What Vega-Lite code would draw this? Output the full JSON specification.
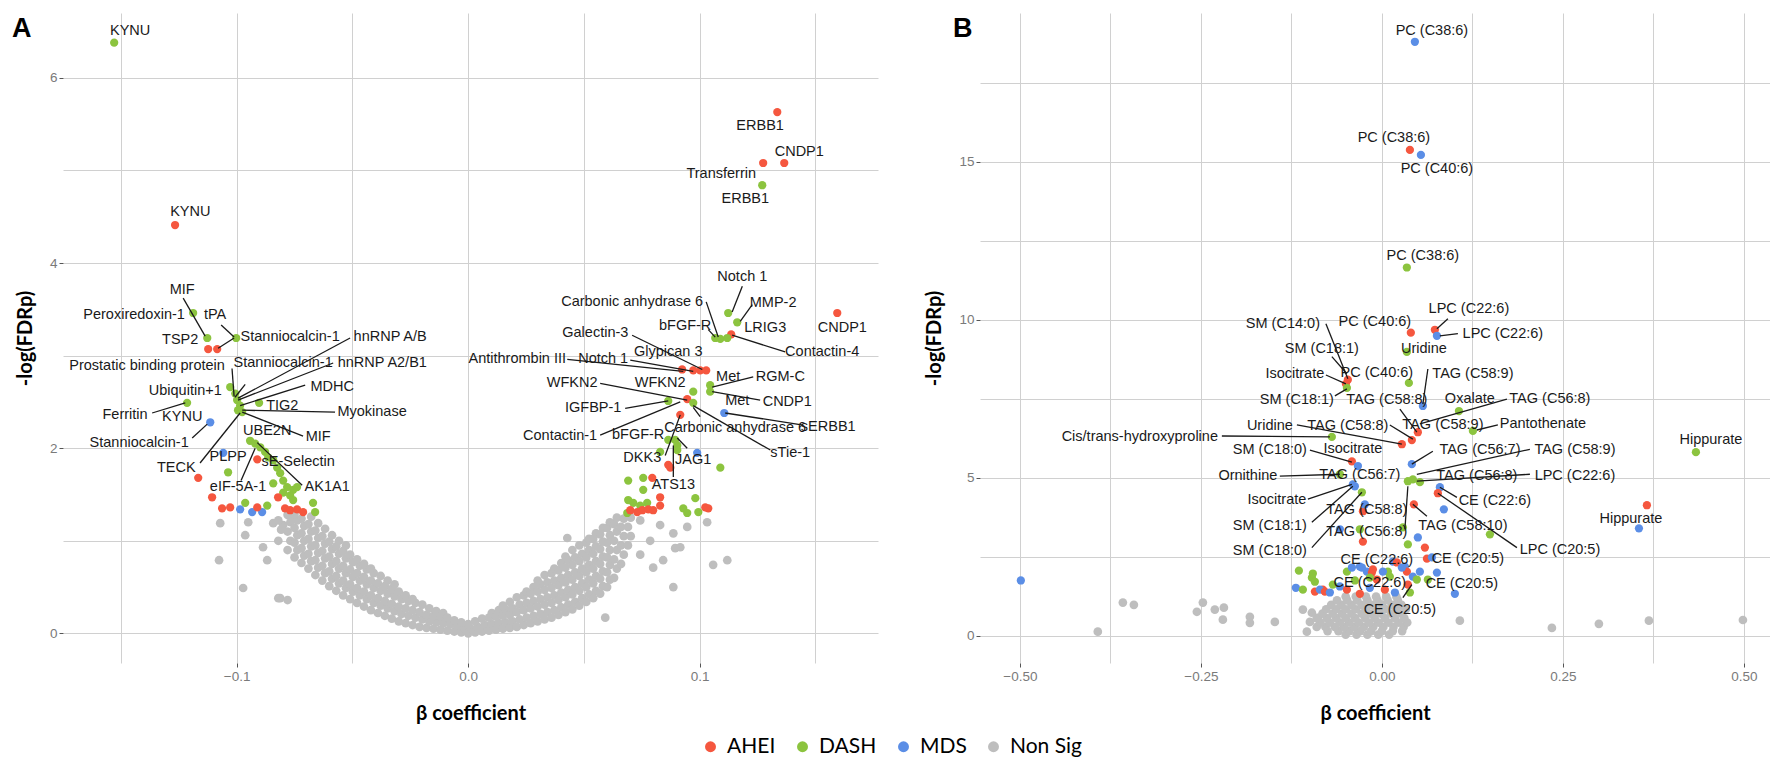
{
"$schema":"https://vega.github.io/schema/vega-lite/v6.json",
"background":"white",
"padding":{"left":12,"top":13,"right":0,"bottom":0},
"autosize":{"type":"pad"},
"bounds":"flush",
"spacing":102,
"datasets":{
"aGray":[
{"x":-0.1071,"y":1.19},{"x":-0.1076,"y":0.79},{"x":-0.0972,"y":0.49},{"x":-0.0963,"y":1.06},{"x":-0.095,"y":1.2},{"x":-0.0886,"y":0.93},{"x":-0.0868,"y":0.79},{"x":-0.0812,"y":0.38},{"x":-0.0799,"y":1.17},{"x":-0.0842,"y":1.19},{"x":-0.082,"y":0.38},{"x":-0.078,"y":0.36},{"x":-0.0756,"y":1.25},
{"x":-0.082,"y":1.0},{"x":-0.0808,"y":1.12},{"x":-0.082,"y":1.22},
{"x":-0.078,"y":0.9},{"x":-0.0768,"y":1.0},{"x":-0.078,"y":1.1},{"x":-0.0768,"y":1.2},{"x":-0.078,"y":1.28},
{"x":-0.075,"y":0.82},{"x":-0.0738,"y":0.9},{"x":-0.075,"y":0.98},{"x":-0.0738,"y":1.06},{"x":-0.075,"y":1.14},{"x":-0.0738,"y":1.22},{"x":-0.075,"y":1.29},
{"x":-0.072,"y":0.76},{"x":-0.0708,"y":0.84},{"x":-0.072,"y":0.92},{"x":-0.0708,"y":1.0},{"x":-0.072,"y":1.08},{"x":-0.0708,"y":1.16},{"x":-0.072,"y":1.24},
{"x":-0.069,"y":0.7},{"x":-0.0678,"y":0.78},{"x":-0.069,"y":0.86},{"x":-0.0678,"y":0.94},{"x":-0.069,"y":1.02},{"x":-0.0678,"y":1.1},{"x":-0.069,"y":1.18},{"x":-0.0678,"y":1.26},
{"x":-0.066,"y":0.63},{"x":-0.0648,"y":0.71},{"x":-0.066,"y":0.79},{"x":-0.0648,"y":0.87},{"x":-0.066,"y":0.95},{"x":-0.0648,"y":1.03},{"x":-0.066,"y":1.11},{"x":-0.0648,"y":1.19},
{"x":-0.063,"y":0.57},{"x":-0.0618,"y":0.65},{"x":-0.063,"y":0.73},{"x":-0.0618,"y":0.81},{"x":-0.063,"y":0.89},{"x":-0.0618,"y":0.97},{"x":-0.063,"y":1.05},{"x":-0.0618,"y":1.13},
{"x":-0.06,"y":0.51},{"x":-0.0588,"y":0.59},{"x":-0.06,"y":0.67},{"x":-0.0588,"y":0.75},{"x":-0.06,"y":0.83},{"x":-0.0588,"y":0.91},{"x":-0.06,"y":0.99},{"x":-0.0588,"y":1.06},
{"x":-0.057,"y":0.46},{"x":-0.0558,"y":0.54},{"x":-0.057,"y":0.62},{"x":-0.0558,"y":0.7},{"x":-0.057,"y":0.78},{"x":-0.0558,"y":0.86},{"x":-0.057,"y":0.94},{"x":-0.0558,"y":1.0},
{"x":-0.054,"y":0.41},{"x":-0.0528,"y":0.49},{"x":-0.054,"y":0.57},{"x":-0.0528,"y":0.65},{"x":-0.054,"y":0.73},{"x":-0.0528,"y":0.81},{"x":-0.054,"y":0.89},{"x":-0.0528,"y":0.95},
{"x":-0.051,"y":0.37},{"x":-0.0498,"y":0.45},{"x":-0.051,"y":0.53},{"x":-0.0498,"y":0.61},{"x":-0.051,"y":0.69},{"x":-0.0498,"y":0.77},{"x":-0.051,"y":0.85},
{"x":-0.048,"y":0.33},{"x":-0.0468,"y":0.41},{"x":-0.048,"y":0.49},{"x":-0.0468,"y":0.57},{"x":-0.048,"y":0.65},{"x":-0.0468,"y":0.73},{"x":-0.048,"y":0.8},
{"x":-0.045,"y":0.29},{"x":-0.0438,"y":0.37},{"x":-0.045,"y":0.45},{"x":-0.0438,"y":0.53},{"x":-0.045,"y":0.61},{"x":-0.0438,"y":0.69},{"x":-0.045,"y":0.75},
{"x":-0.042,"y":0.25},{"x":-0.0408,"y":0.33},{"x":-0.042,"y":0.41},{"x":-0.0408,"y":0.49},{"x":-0.042,"y":0.57},{"x":-0.0408,"y":0.65},{"x":-0.042,"y":0.7},
{"x":-0.039,"y":0.22},{"x":-0.0378,"y":0.3},{"x":-0.039,"y":0.38},{"x":-0.0378,"y":0.46},{"x":-0.039,"y":0.54},{"x":-0.0378,"y":0.62},
{"x":-0.036,"y":0.19},{"x":-0.0348,"y":0.27},{"x":-0.036,"y":0.35},{"x":-0.0348,"y":0.43},{"x":-0.036,"y":0.51},{"x":-0.0348,"y":0.57},
{"x":-0.033,"y":0.16},{"x":-0.0318,"y":0.24},{"x":-0.033,"y":0.32},{"x":-0.0318,"y":0.4},{"x":-0.033,"y":0.48},{"x":-0.0318,"y":0.53},
{"x":-0.03,"y":0.13},{"x":-0.0288,"y":0.21},{"x":-0.03,"y":0.29},{"x":-0.0288,"y":0.37},{"x":-0.03,"y":0.45},
{"x":-0.027,"y":0.11},{"x":-0.0258,"y":0.19},{"x":-0.027,"y":0.27},{"x":-0.0258,"y":0.35},{"x":-0.027,"y":0.41},
{"x":-0.024,"y":0.09},{"x":-0.0228,"y":0.17},{"x":-0.024,"y":0.25},{"x":-0.0228,"y":0.33},{"x":-0.024,"y":0.37},
{"x":-0.021,"y":0.07},{"x":-0.0198,"y":0.15},{"x":-0.021,"y":0.23},{"x":-0.0198,"y":0.31},
{"x":-0.018,"y":0.06},{"x":-0.0168,"y":0.13},{"x":-0.018,"y":0.2},{"x":-0.0168,"y":0.27},
{"x":-0.015,"y":0.05},{"x":-0.0138,"y":0.12},{"x":-0.015,"y":0.19},{"x":-0.0138,"y":0.24},
{"x":-0.012,"y":0.04},{"x":-0.0108,"y":0.11},{"x":-0.012,"y":0.18},{"x":-0.0108,"y":0.22},
{"x":-0.009,"y":0.03},{"x":-0.0078,"y":0.1},{"x":-0.009,"y":0.17},
{"x":-0.006,"y":0.02},{"x":-0.0048,"y":0.08},{"x":-0.006,"y":0.14},
{"x":-0.003,"y":0.01},{"x":-0.0018,"y":0.06},{"x":-0.003,"y":0.12},
{"x":0,"y":0.0},{"x":0.0012,"y":0.05},{"x":0,"y":0.1},
{"x":0.003,"y":0.01},{"x":0.0042,"y":0.07},{"x":0.003,"y":0.13},
{"x":0.006,"y":0.02},{"x":0.0072,"y":0.09},{"x":0.006,"y":0.16},
{"x":0.009,"y":0.03},{"x":0.0102,"y":0.1},{"x":0.009,"y":0.17},{"x":0.0102,"y":0.22},
{"x":0.012,"y":0.04},{"x":0.0132,"y":0.11},{"x":0.012,"y":0.18},{"x":0.0132,"y":0.25},
{"x":0.015,"y":0.05},{"x":0.0162,"y":0.12},{"x":0.015,"y":0.19},{"x":0.0162,"y":0.26},{"x":0.015,"y":0.3},
{"x":0.018,"y":0.06},{"x":0.0192,"y":0.13},{"x":0.018,"y":0.2},{"x":0.0192,"y":0.27},{"x":0.018,"y":0.34},
{"x":0.021,"y":0.07},{"x":0.0222,"y":0.15},{"x":0.021,"y":0.23},{"x":0.0222,"y":0.31},{"x":0.021,"y":0.39},
{"x":0.024,"y":0.09},{"x":0.0252,"y":0.17},{"x":0.024,"y":0.25},{"x":0.0252,"y":0.33},{"x":0.024,"y":0.41},{"x":0.0252,"y":0.45},
{"x":0.027,"y":0.11},{"x":0.0282,"y":0.19},{"x":0.027,"y":0.27},{"x":0.0282,"y":0.35},{"x":0.027,"y":0.43},{"x":0.0282,"y":0.5},
{"x":0.03,"y":0.13},{"x":0.0312,"y":0.21},{"x":0.03,"y":0.29},{"x":0.0312,"y":0.37},{"x":0.03,"y":0.45},{"x":0.0312,"y":0.53},{"x":0.03,"y":0.57},
{"x":0.033,"y":0.15},{"x":0.0342,"y":0.23},{"x":0.033,"y":0.31},{"x":0.0342,"y":0.39},{"x":0.033,"y":0.47},{"x":0.0342,"y":0.55},{"x":0.033,"y":0.63},
{"x":0.036,"y":0.17},{"x":0.0372,"y":0.25},{"x":0.036,"y":0.33},{"x":0.0372,"y":0.41},{"x":0.036,"y":0.49},{"x":0.0372,"y":0.57},{"x":0.036,"y":0.65},{"x":0.0372,"y":0.7},
{"x":0.039,"y":0.2},{"x":0.0402,"y":0.28},{"x":0.039,"y":0.36},{"x":0.0402,"y":0.44},{"x":0.039,"y":0.52},{"x":0.0402,"y":0.6},{"x":0.039,"y":0.68},{"x":0.0402,"y":0.76},
{"x":0.042,"y":0.23},{"x":0.0432,"y":0.31},{"x":0.042,"y":0.39},{"x":0.0432,"y":0.47},{"x":0.042,"y":0.55},{"x":0.0432,"y":0.63},{"x":0.042,"y":0.71},{"x":0.0432,"y":0.79},{"x":0.042,"y":0.83},
{"x":0.045,"y":0.26},{"x":0.0462,"y":0.34},{"x":0.045,"y":0.42},{"x":0.0462,"y":0.5},{"x":0.045,"y":0.58},{"x":0.0462,"y":0.66},{"x":0.045,"y":0.74},{"x":0.0462,"y":0.82},{"x":0.045,"y":0.9},
{"x":0.048,"y":0.3},{"x":0.0492,"y":0.38},{"x":0.048,"y":0.46},{"x":0.0492,"y":0.54},{"x":0.048,"y":0.62},{"x":0.0492,"y":0.7},{"x":0.048,"y":0.78},{"x":0.0492,"y":0.86},{"x":0.048,"y":0.95},
{"x":0.051,"y":0.34},{"x":0.0522,"y":0.42},{"x":0.051,"y":0.5},{"x":0.0522,"y":0.58},{"x":0.051,"y":0.66},{"x":0.0522,"y":0.74},{"x":0.051,"y":0.82},{"x":0.0522,"y":0.9},{"x":0.051,"y":0.98},{"x":0.0522,"y":1.02},
{"x":0.054,"y":0.38},{"x":0.0552,"y":0.46},{"x":0.054,"y":0.54},{"x":0.0552,"y":0.62},{"x":0.054,"y":0.7},{"x":0.0552,"y":0.78},{"x":0.054,"y":0.86},{"x":0.0552,"y":0.94},{"x":0.054,"y":1.02},{"x":0.0552,"y":1.08},
{"x":0.057,"y":0.43},{"x":0.0582,"y":0.51},{"x":0.057,"y":0.59},{"x":0.0582,"y":0.67},{"x":0.057,"y":0.75},{"x":0.0582,"y":0.83},{"x":0.057,"y":0.91},{"x":0.0582,"y":0.99},{"x":0.057,"y":1.07},{"x":0.0582,"y":1.14},
{"x":0.06,"y":0.5},{"x":0.0612,"y":0.58},{"x":0.06,"y":0.66},{"x":0.0612,"y":0.74},{"x":0.06,"y":0.82},{"x":0.0612,"y":0.9},{"x":0.06,"y":0.98},{"x":0.0612,"y":1.06},{"x":0.06,"y":1.14},{"x":0.0612,"y":1.2},
{"x":0.063,"y":0.6},{"x":0.0642,"y":0.7},{"x":0.063,"y":0.8},{"x":0.0642,"y":0.9},{"x":0.063,"y":1.0},{"x":0.0642,"y":1.1},{"x":0.063,"y":1.18},{"x":0.0642,"y":1.25},
{"x":0.066,"y":0.75},{"x":0.0672,"y":0.85},{"x":0.066,"y":0.95},{"x":0.0672,"y":1.05},{"x":0.066,"y":1.15},{"x":0.0672,"y":1.24},
{"x":0.069,"y":0.95},{"x":0.0702,"y":1.05},{"x":0.069,"y":1.15},{"x":0.0702,"y":1.25},
{"x":0.0428,"y":1.03},{"x":0.0592,"y":0.17},{"x":0.0886,"y":0.5},{"x":0.1058,"y":0.74},{"x":0.1119,"y":0.79},{"x":0.1032,"y":1.2},{"x":0.0946,"y":1.15},{"x":0.0886,"y":1.08},{"x":0.0916,"y":0.93},{"x":0.0799,"y":0.71},{"x":0.0842,"y":0.79},{"x":0.0894,"y":0.92},{"x":0.0743,"y":1.22},{"x":0.0829,"y":1.17},{"x":0.0786,"y":1.0},{"x":0.0743,"y":0.85}
],
"aPts":[
{"x":-0.1529,"y":6.38,"g":"DASH"},{"x":-0.1266,"y":4.41,"g":"AHEI"},{"x":-0.1188,"y":3.46,"g":"DASH"},{"x":-0.1127,"y":3.19,"g":"DASH"},{"x":-0.1123,"y":3.07,"g":"AHEI"},{"x":-0.1084,"y":3.07,"g":"AHEI"},{"x":-0.1002,"y":3.19,"g":"DASH"},{"x":-0.1028,"y":2.66,"g":"DASH"},{"x":-0.1006,"y":2.59,"g":"DASH"},{"x":-0.0998,"y":2.52,"g":"DASH"},{"x":-0.0985,"y":2.46,"g":"DASH"},{"x":-0.0976,"y":2.39,"g":"DASH"},{"x":-0.0994,"y":2.41,"g":"DASH"},{"x":-0.0903,"y":2.49,"g":"DASH"},{"x":-0.1214,"y":2.49,"g":"DASH"},{"x":-0.1114,"y":2.28,"g":"MDS"},{"x":-0.1058,"y":1.95,"g":"MDS"},{"x":-0.1166,"y":1.68,"g":"AHEI"},{"x":-0.1037,"y":1.74,"g":"DASH"},
{"x":-0.0942,"y":2.08,"g":"DASH"},{"x":-0.092,"y":2.05,"g":"DASH"},{"x":-0.0898,"y":2.01,"g":"DASH"},{"x":-0.0877,"y":1.96,"g":"DASH"},{"x":-0.0864,"y":1.9,"g":"DASH"},{"x":-0.0842,"y":1.87,"g":"DASH"},{"x":-0.0825,"y":1.79,"g":"DASH"},{"x":-0.0812,"y":1.73,"g":"DASH"},{"x":-0.0799,"y":1.65,"g":"DASH"},{"x":-0.0782,"y":1.58,"g":"DASH"},{"x":-0.0756,"y":1.55,"g":"DASH"},{"x":-0.0739,"y":1.58,"g":"DASH"},{"x":-0.0769,"y":1.49,"g":"DASH"},{"x":-0.0756,"y":1.44,"g":"DASH"},{"x":-0.067,"y":1.41,"g":"DASH"},{"x":-0.0661,"y":1.31,"g":"DASH"},{"x":-0.0842,"y":1.62,"g":"DASH"},{"x":-0.0799,"y":1.52,"g":"DASH"},
{"x":-0.0911,"y":1.88,"g":"AHEI"},{"x":-0.0821,"y":1.47,"g":"AHEI"},{"x":-0.1106,"y":1.47,"g":"AHEI"},{"x":-0.1063,"y":1.35,"g":"AHEI"},{"x":-0.1028,"y":1.36,"g":"AHEI"},{"x":-0.0985,"y":1.34,"g":"MDS"},{"x":-0.0963,"y":1.41,"g":"DASH"},{"x":-0.0933,"y":1.31,"g":"MDS"},{"x":-0.089,"y":1.31,"g":"MDS"},{"x":-0.0911,"y":1.36,"g":"AHEI"},{"x":-0.0868,"y":1.38,"g":"DASH"},{"x":-0.0791,"y":1.35,"g":"AHEI"},{"x":-0.0769,"y":1.33,"g":"AHEI"},{"x":-0.0739,"y":1.34,"g":"AHEI"},{"x":-0.0713,"y":1.31,"g":"AHEI"},
{"x":0.1335,"y":5.63,"g":"AHEI"},{"x":0.1365,"y":5.08,"g":"AHEI"},{"x":0.1274,"y":5.08,"g":"AHEI"},{"x":0.127,"y":4.84,"g":"DASH"},{"x":0.1123,"y":3.46,"g":"DASH"},{"x":0.1162,"y":3.36,"g":"DASH"},{"x":0.1136,"y":3.23,"g":"AHEI"},{"x":0.1067,"y":3.19,"g":"DASH"},{"x":0.1089,"y":3.18,"g":"DASH"},{"x":0.1119,"y":3.19,"g":"DASH"},{"x":0.1594,"y":3.46,"g":"AHEI"},
{"x":0.0924,"y":2.85,"g":"AHEI"},{"x":0.0972,"y":2.84,"g":"AHEI"},{"x":0.1002,"y":2.84,"g":"AHEI"},{"x":0.1028,"y":2.84,"g":"AHEI"},{"x":0.1045,"y":2.68,"g":"DASH"},{"x":0.1045,"y":2.61,"g":"DASH"},{"x":0.0972,"y":2.61,"g":"DASH"},{"x":0.0864,"y":2.51,"g":"DASH"},{"x":0.0946,"y":2.53,"g":"AHEI"},{"x":0.0972,"y":2.49,"g":"DASH"},{"x":0.1106,"y":2.38,"g":"MDS"},{"x":0.0916,"y":2.36,"g":"AHEI"},{"x":0.0894,"y":2.09,"g":"DASH"},{"x":0.0903,"y":2.03,"g":"DASH"},{"x":0.0864,"y":2.09,"g":"DASH"},{"x":0.0903,"y":1.98,"g":"DASH"},{"x":0.0989,"y":1.95,"g":"MDS"},{"x":0.1089,"y":1.79,"g":"DASH"},{"x":0.0829,"y":1.96,"g":"DASH"},{"x":0.0864,"y":1.82,"g":"AHEI"},{"x":0.0873,"y":1.79,"g":"AHEI"},
{"x":0.0691,"y":1.65,"g":"DASH"},{"x":0.0756,"y":1.68,"g":"DASH"},{"x":0.0756,"y":1.55,"g":"DASH"},{"x":0.0795,"y":1.68,"g":"AHEI"},{"x":0.0829,"y":1.47,"g":"AHEI"},{"x":0.0829,"y":1.38,"g":"AHEI"},{"x":0.0981,"y":1.46,"g":"DASH"},{"x":0.0691,"y":1.44,"g":"DASH"},{"x":0.0713,"y":1.41,"g":"DASH"},{"x":0.0743,"y":1.38,"g":"DASH"},{"x":0.0773,"y":1.41,"g":"DASH"},{"x":0.0687,"y":1.3,"g":"DASH"},{"x":0.07,"y":1.33,"g":"AHEI"},{"x":0.073,"y":1.31,"g":"AHEI"},{"x":0.0752,"y":1.33,"g":"AHEI"},{"x":0.0778,"y":1.34,"g":"AHEI"},{"x":0.0799,"y":1.33,"g":"AHEI"},{"x":0.0929,"y":1.35,"g":"DASH"},{"x":0.0946,"y":1.3,"g":"DASH"},{"x":0.1024,"y":1.36,"g":"AHEI"},{"x":0.1037,"y":1.35,"g":"AHEI"},{"x":0.0994,"y":1.31,"g":"DASH"}
],
"aLab":[
{"t":"KYNU","lx":-0.146,"ly":6.51},
{"t":"KYNU","lx":-0.12,"ly":4.55},
{"t":"MIF","lx":-0.1235,"ly":3.71,"x1":-0.1231,"y1":3.62,"x2":-0.1136,"y2":3.21},
{"t":"Peroxiredoxin-1","lx":-0.1443,"ly":3.44},
{"t":"tPA","lx":-0.1093,"ly":3.44,"x1":-0.1067,"y1":3.33,"x2":-0.1011,"y2":3.2},
{"t":"TSP2","lx":-0.1244,"ly":3.17},
{"t":"Stanniocalcin-1","lx":-0.0769,"ly":3.2,"x1":-0.108,"y1":3.08,"x2":-0.1011,"y2":3.19},
{"t":"hnRNP A/B","lx":-0.0337,"ly":3.2,"x1":-0.051,"y1":3.19,"x2":-0.0994,"y2":2.54},
{"t":"Prostatic binding protein","lx":-0.1387,"ly":2.89,"x1":-0.102,"y1":2.86,"x2":-0.1011,"y2":2.56},
{"t":"Stanniocalcin-1","lx":-0.0799,"ly":2.92,"x1":-0.0963,"y1":2.69,"x2":-0.1007,"y2":2.55},
{"t":"hnRNP A2/B1","lx":-0.0371,"ly":2.92,"x1":-0.0583,"y1":2.92,"x2":-0.0994,"y2":2.52},
{"t":"Ubiquitin+1","lx":-0.1222,"ly":2.62},
{"t":"MDHC","lx":-0.0587,"ly":2.66,"x1":-0.0704,"y1":2.68,"x2":-0.0985,"y2":2.46},
{"t":"TIG2","lx":-0.0803,"ly":2.46},
{"t":"Myokinase","lx":-0.0415,"ly":2.39,"x1":-0.0575,"y1":2.39,"x2":-0.0976,"y2":2.41},
{"t":"Ferritin","lx":-0.1482,"ly":2.36,"x1":-0.1365,"y1":2.38,"x2":-0.1222,"y2":2.49},
{"t":"KYNU","lx":-0.1235,"ly":2.34},
{"t":"MIF","lx":-0.0648,"ly":2.12,"x1":-0.0713,"y1":2.13,"x2":-0.0976,"y2":2.39},
{"t":"UBE2N","lx":-0.0868,"ly":2.19},
{"t":"Stanniocalcin-1","lx":-0.1421,"ly":2.06,"x1":-0.1192,"y1":2.11,"x2":-0.1127,"y2":2.26},
{"t":"PLPP","lx":-0.1037,"ly":1.91},
{"t":"sE-Selectin","lx":-0.0734,"ly":1.85},
{"t":"TECK","lx":-0.1261,"ly":1.79,"x1":-0.1158,"y1":1.84,"x2":-0.0985,"y2":2.38},
{"t":"eIF-5A-1","lx":-0.0994,"ly":1.58,"x1":-0.0981,"y1":1.65,"x2":-0.092,"y2":2.0},
{"t":"AK1A1","lx":-0.0609,"ly":1.58,"x1":-0.0717,"y1":1.6,"x2":-0.0911,"y2":2.06},
{"t":"ERBB1","lx":0.1261,"ly":5.48},
{"t":"CNDP1","lx":0.143,"ly":5.2},
{"t":"Transferrin","lx":0.1093,"ly":4.96},
{"t":"ERBB1","lx":0.1197,"ly":4.69},
{"t":"Notch 1","lx":0.1184,"ly":3.85,"x1":0.1184,"y1":3.75,"x2":0.114,"y2":3.47},
{"t":"Carbonic anhydrase 6","lx":0.0708,"ly":3.58,"x1":0.1028,"y1":3.58,"x2":0.108,"y2":3.2},
{"t":"MMP-2","lx":0.1317,"ly":3.57,"x1":0.1227,"y1":3.55,"x2":0.1175,"y2":3.37},
{"t":"bFGF-R","lx":0.0937,"ly":3.32,"x1":0.1037,"y1":3.28,"x2":0.1067,"y2":3.2},
{"t":"LRIG3","lx":0.1283,"ly":3.3},
{"t":"CNDP1","lx":0.1616,"ly":3.3},
{"t":"Galectin-3","lx":0.0549,"ly":3.24,"x1":0.0708,"y1":3.22,"x2":0.1011,"y2":2.85},
{"t":"Contactin-4","lx":0.1529,"ly":3.04,"x1":0.1369,"y1":3.04,"x2":0.114,"y2":3.22},
{"t":"Glypican 3","lx":0.0864,"ly":3.04},
{"t":"Antithrombin III","lx":0.0212,"ly":2.96,"x1":0.0428,"y1":2.96,"x2":0.0929,"y2":2.83},
{"t":"Notch 1","lx":0.0583,"ly":2.96,"x1":0.07,"y1":2.95,"x2":0.0972,"y2":2.83},
{"t":"Met","lx":0.1123,"ly":2.77},
{"t":"RGM-C","lx":0.1348,"ly":2.77,"x1":0.1231,"y1":2.77,"x2":0.1054,"y2":2.66},
{"t":"WFKN2","lx":0.0449,"ly":2.7,"x1":0.057,"y1":2.7,"x2":0.0946,"y2":2.52},
{"t":"WFKN2","lx":0.0829,"ly":2.7},
{"t":"Met","lx":0.1162,"ly":2.51},
{"t":"CNDP1","lx":0.1378,"ly":2.5,"x1":0.1261,"y1":2.52,"x2":0.1054,"y2":2.61},
{"t":"IGFBP-1","lx":0.054,"ly":2.43,"x1":0.0678,"y1":2.43,"x2":0.0864,"y2":2.51},
{"t":"sERBB1","lx":0.1555,"ly":2.23,"x1":0.1447,"y1":2.25,"x2":0.111,"y2":2.38},
{"t":"Carbonic anhydrase 6","lx":0.1153,"ly":2.22,"x1":0.1002,"y1":2.34,"x2":0.0972,"y2":2.44},
{"t":"Contactin-1","lx":0.0397,"ly":2.13,"x1":0.057,"y1":2.14,"x2":0.0916,"y2":2.5},
{"t":"bFGF-R","lx":0.0734,"ly":2.14},
{"t":"sTie-1","lx":0.1391,"ly":1.95,"x1":0.1305,"y1":1.98,"x2":0.0972,"y2":2.46},
{"t":"DKK3","lx":0.0752,"ly":1.89,"x1":0.0851,"y1":1.92,"x2":0.0916,"y2":2.36},
{"t":"JAG1","lx":0.0972,"ly":1.87,"x1":0.0946,"y1":2.0,"x2":0.0903,"y2":2.11},
{"t":"ATS13","lx":0.0886,"ly":1.6,"x1":0.0886,"y1":1.69,"x2":0.0886,"y2":2.03}
],
"bGray":[
{"x":-0.3577,"y":1.05},{"x":-0.3425,"y":0.98},{"x":-0.3923,"y":0.13},{"x":-0.2472,"y":1.05},{"x":-0.2555,"y":0.76},{"x":-0.2307,"y":0.83},{"x":-0.2182,"y":0.89},{"x":-0.2196,"y":0.51},{"x":-0.1823,"y":0.6},{"x":-0.1823,"y":0.41},{"x":-0.1478,"y":0.44},{"x":-0.1091,"y":0.83},{"x":-0.0967,"y":0.73},{"x":-0.0994,"y":0.44},{"x":-0.1036,"y":0.13},{"x":-0.0884,"y":0.57},{"x":0.1077,"y":0.48},{"x":0.2348,"y":0.25},{"x":0.2997,"y":0.38},{"x":0.3688,"y":0.48},{"x":0.4986,"y":0.5},
{"x":-0.05,"y":0.04},{"x":-0.035,"y":0.04},{"x":-0.02,"y":0.04},{"x":-0.005,"y":0.04},{"x":0.01,"y":0.04},
{"x":-0.075,"y":0.15},{"x":-0.06,"y":0.15},{"x":-0.045,"y":0.15},{"x":-0.03,"y":0.15},{"x":-0.015,"y":0.15},{"x":0.0,"y":0.15},{"x":0.015,"y":0.15},{"x":0.028,"y":0.15},
{"x":-0.09,"y":0.28},{"x":-0.078,"y":0.28},{"x":-0.065,"y":0.28},{"x":-0.052,"y":0.28},{"x":-0.038,"y":0.28},{"x":-0.025,"y":0.28},{"x":-0.012,"y":0.28},{"x":0.002,"y":0.28},{"x":0.016,"y":0.28},{"x":0.03,"y":0.28},
{"x":-0.085,"y":0.42},{"x":-0.072,"y":0.42},{"x":-0.058,"y":0.42},{"x":-0.045,"y":0.42},{"x":-0.032,"y":0.42},{"x":-0.018,"y":0.42},{"x":-0.005,"y":0.42},{"x":0.009,"y":0.42},{"x":0.023,"y":0.42},{"x":0.035,"y":0.42},
{"x":-0.09,"y":0.56},{"x":-0.076,"y":0.56},{"x":-0.063,"y":0.56},{"x":-0.05,"y":0.56},{"x":-0.037,"y":0.56},{"x":-0.023,"y":0.56},{"x":-0.01,"y":0.56},{"x":0.004,"y":0.56},{"x":0.018,"y":0.56},{"x":0.031,"y":0.56},
{"x":-0.082,"y":0.7},{"x":-0.068,"y":0.7},{"x":-0.055,"y":0.7},{"x":-0.042,"y":0.7},{"x":-0.028,"y":0.7},{"x":-0.015,"y":0.7},{"x":-0.001,"y":0.7},{"x":0.013,"y":0.7},{"x":0.027,"y":0.7},
{"x":-0.077,"y":0.84},{"x":-0.063,"y":0.84},{"x":-0.05,"y":0.84},{"x":-0.036,"y":0.84},{"x":-0.022,"y":0.84},{"x":-0.008,"y":0.84},{"x":0.006,"y":0.84},{"x":0.02,"y":0.84},{"x":0.033,"y":0.84},
{"x":-0.07,"y":0.98},{"x":-0.056,"y":0.98},{"x":-0.042,"y":0.98},{"x":-0.028,"y":0.98},{"x":-0.014,"y":0.98},{"x":0.0,"y":0.98},{"x":0.014,"y":0.98},{"x":0.027,"y":0.98},
{"x":-0.062,"y":1.12},{"x":-0.048,"y":1.12},{"x":-0.034,"y":1.12},{"x":-0.02,"y":1.12},{"x":-0.006,"y":1.12},{"x":0.008,"y":1.12},{"x":0.022,"y":1.12},
{"x":-0.05,"y":1.24},{"x":-0.036,"y":1.24},{"x":-0.022,"y":1.24},{"x":-0.008,"y":1.24},{"x":0.006,"y":1.24},{"x":0.02,"y":1.24}
],
"bPts":[
{"x":0.0456,"y":18.79,"g":"MDS"},{"x":0.0387,"y":15.37,"g":"AHEI"},{"x":0.0539,"y":15.21,"g":"MDS"},{"x":0.0345,"y":11.65,"g":"DASH"},{"x":0.0732,"y":9.68,"g":"AHEI"},{"x":0.076,"y":9.49,"g":"MDS"},{"x":0.04,"y":9.59,"g":"AHEI"},{"x":0.0345,"y":8.98,"g":"DASH"},
{"x":-0.047,"y":8.1,"g":"AHEI"},{"x":-0.0497,"y":7.97,"g":"AHEI"},{"x":-0.0483,"y":7.84,"g":"DASH"},{"x":0.0373,"y":8.0,"g":"DASH"},{"x":0.1064,"y":7.11,"g":"DASH"},{"x":0.0566,"y":7.27,"g":"MDS"},{"x":0.1257,"y":6.48,"g":"DASH"},{"x":0.0497,"y":6.44,"g":"AHEI"},{"x":0.0414,"y":6.19,"g":"AHEI"},{"x":0.0276,"y":6.06,"g":"AHEI"},{"x":-0.0691,"y":6.29,"g":"DASH"},
{"x":-0.0414,"y":5.52,"g":"AHEI"},{"x":-0.0331,"y":5.37,"g":"MDS"},{"x":0.0414,"y":5.43,"g":"MDS"},{"x":-0.058,"y":5.11,"g":"DASH"},{"x":-0.0401,"y":4.79,"g":"MDS"},{"x":-0.0373,"y":4.73,"g":"MDS"},{"x":-0.0276,"y":4.54,"g":"DASH"},{"x":0.0359,"y":4.89,"g":"DASH"},{"x":0.0428,"y":4.95,"g":"DASH"},{"x":0.0525,"y":4.86,"g":"DASH"},{"x":0.0801,"y":4.7,"g":"MDS"},{"x":0.0773,"y":4.51,"g":"AHEI"},{"x":0.0856,"y":4.0,"g":"MDS"},{"x":0.0442,"y":4.16,"g":"AHEI"},
{"x":-0.0262,"y":3.94,"g":"AHEI"},{"x":-0.0235,"y":4.16,"g":"MDS"},{"x":-0.0262,"y":2.98,"g":"AHEI"},{"x":-0.0304,"y":3.37,"g":"DASH"},{"x":-0.058,"y":3.37,"g":"MDS"},{"x":0.1492,"y":3.21,"g":"DASH"},{"x":0.029,"y":3.43,"g":"DASH"},{"x":0.0359,"y":2.89,"g":"DASH"},{"x":0.0497,"y":3.11,"g":"MDS"},{"x":0.0594,"y":2.79,"g":"AHEI"},{"x":0.0622,"y":2.44,"g":"AHEI"},{"x":0.0691,"y":2.48,"g":"MDS"},
{"x":0.366,"y":4.13,"g":"AHEI"},{"x":0.355,"y":3.4,"g":"MDS"},{"x":0.4337,"y":5.81,"g":"DASH"},{"x":-0.4986,"y":1.75,"g":"MDS"},{"x":0.1008,"y":1.33,"g":"MDS"},
{"x":-0.1146,"y":2.06,"g":"DASH"},{"x":-0.0967,"y":1.84,"g":"DASH"},{"x":-0.1188,"y":1.52,"g":"MDS"},{"x":-0.1091,"y":1.46,"g":"DASH"},{"x":-0.0815,"y":1.46,"g":"AHEI"},{"x":-0.0953,"y":1.97,"g":"DASH"},{"x":-0.0925,"y":1.71,"g":"DASH"},{"x":-0.0925,"y":1.4,"g":"AHEI"},{"x":-0.0856,"y":1.46,"g":"MDS"},{"x":-0.0787,"y":1.4,"g":"AHEI"},
{"x":-0.0483,"y":2.03,"g":"DASH"},{"x":-0.0414,"y":2.16,"g":"MDS"},{"x":-0.0304,"y":2.19,"g":"MDS"},{"x":-0.0207,"y":2.03,"g":"MDS"},{"x":-0.0138,"y":2.0,"g":"AHEI"},{"x":-0.0069,"y":1.78,"g":"AHEI"},{"x":0.0083,"y":2.03,"g":"DASH"},{"x":0.0152,"y":2.35,"g":"MDS"},{"x":0.0318,"y":2.19,"g":"MDS"},{"x":0.0345,"y":2.03,"g":"AHEI"},{"x":0.0525,"y":2.03,"g":"MDS"},{"x":-0.0276,"y":2.16,"g":"MDS"},{"x":-0.0124,"y":2.1,"g":"AHEI"},{"x":0.0014,"y":2.03,"g":"MDS"},{"x":0.0207,"y":2.32,"g":"AHEI"},{"x":0.0276,"y":2.16,"g":"MDS"},{"x":0.0428,"y":1.87,"g":"MDS"},{"x":0.011,"y":1.87,"g":"DASH"},{"x":-0.0166,"y":1.84,"g":"DASH"},{"x":0.0359,"y":1.62,"g":"AHEI"},{"x":0.0483,"y":1.78,"g":"DASH"},{"x":-0.058,"y":1.56,"g":"MDS"},{"x":-0.0483,"y":1.46,"g":"AHEI"},{"x":-0.0677,"y":1.62,"g":"DASH"},{"x":-0.0166,"y":1.52,"g":"MDS"},{"x":-0.0373,"y":1.75,"g":"DASH"},{"x":0.0041,"y":1.46,"g":"AHEI"},{"x":0.018,"y":1.37,"g":"MDS"},{"x":0.0387,"y":1.37,"g":"DASH"},{"x":-0.0304,"y":1.33,"g":"AHEI"},{"x":-0.0718,"y":1.37,"g":"MDS"},{"x":0.0635,"y":1.78,"g":"DASH"},{"x":0.076,"y":2.0,"g":"MDS"}
],
"bLab":[
{"t":"PC  (C38:6)","lx":0.0691,"ly":19.14},
{"t":"PC  (C38:6)","lx":0.0166,"ly":15.75},
{"t":"PC  (C40:6)","lx":0.076,"ly":14.76},
{"t":"PC  (C38:6)","lx":0.0566,"ly":12.0},
{"t":"LPC (C22:6)","lx":0.1202,"ly":10.35,"x1":0.0912,"y1":10.03,"x2":0.076,"y2":9.71},
{"t":"LPC (C22:6)","lx":0.1671,"ly":9.56,"x1":0.105,"y1":9.56,"x2":0.0801,"y2":9.49},
{"t":"PC  (C40:6)","lx":-0.0097,"ly":9.94},
{"t":"SM (C14:0)","lx":-0.1367,"ly":9.87,"x1":-0.0773,"y1":9.87,"x2":-0.047,"y2":8.13},
{"t":"Uridine","lx":0.058,"ly":9.08},
{"t":"SM (C18:1)","lx":-0.0829,"ly":9.08,"x1":-0.0691,"y1":8.83,"x2":-0.0483,"y2":8.29},
{"t":"Isocitrate","lx":-0.1202,"ly":8.29,"x1":-0.0773,"y1":8.25,"x2":-0.0497,"y2":7.97},
{"t":"PC  (C40:6)","lx":-0.0069,"ly":8.32},
{"t":"TAG (C58:9)","lx":0.1257,"ly":8.29,"x1":0.0635,"y1":8.44,"x2":0.0566,"y2":7.33},
{"t":"SM (C18:1)","lx":-0.1174,"ly":7.46,"x1":-0.0649,"y1":7.59,"x2":-0.0483,"y2":7.81},
{"t":"TAG (C58:8)","lx":0.0069,"ly":7.46,"x1":0.0249,"y1":7.17,"x2":0.0483,"y2":6.44},
{"t":"Oxalate","lx":0.1215,"ly":7.49},
{"t":"TAG (C56:8)","lx":0.232,"ly":7.49,"x1":0.1727,"y1":7.49,"x2":0.0525,"y2":6.7},
{"t":"TAG (C58:9)","lx":0.0843,"ly":6.67},
{"t":"Pantothenate","lx":0.2224,"ly":6.7,"x1":0.1602,"y1":6.67,"x2":0.1312,"y2":6.51},
{"t":"TAG (C58:8)","lx":-0.047,"ly":6.63,"x1":0.011,"y1":6.67,"x2":0.0428,"y2":6.22},
{"t":"Uridine","lx":-0.1547,"ly":6.63,"x1":-0.1174,"y1":6.67,"x2":0.0276,"y2":6.06},
{"t":"Cis/trans-hydroxyproline","lx":-0.3343,"ly":6.29,"x1":-0.221,"y1":6.32,"x2":-0.0718,"y2":6.29},
{"t":"SM (C18:0)","lx":-0.1547,"ly":5.87,"x1":-0.0994,"y1":5.87,"x2":-0.0414,"y2":5.49},
{"t":"Isocitrate","lx":-0.0401,"ly":5.9},
{"t":"TAG (C56:7)","lx":0.1354,"ly":5.87,"x1":0.0704,"y1":5.84,"x2":0.0414,"y2":5.43},
{"t":"TAG (C58:9)","lx":0.2666,"ly":5.87,"x1":0.2044,"y1":5.9,"x2":0.0483,"y2":5.11},
{"t":"TAG (C56:7)","lx":-0.0304,"ly":5.08},
{"t":"Ornithine","lx":-0.1851,"ly":5.05,"x1":-0.1409,"y1":5.05,"x2":-0.058,"y2":5.11},
{"t":"TAG (C56:8)","lx":0.1312,"ly":5.05},
{"t":"LPC (C22:6)","lx":0.2666,"ly":5.05,"x1":0.2044,"y1":5.11,"x2":0.0483,"y2":4.89},
{"t":"Isocitrate","lx":-0.145,"ly":4.29,"x1":-0.1022,"y1":4.32,"x2":-0.0414,"y2":4.79},
{"t":"CE (C22:6)","lx":0.1561,"ly":4.25,"x1":0.1036,"y1":4.38,"x2":0.0801,"y2":4.7},
{"t":"TAG (C58:8)","lx":-0.0207,"ly":3.97},
{"t":"SM (C18:1)","lx":-0.1547,"ly":3.46,"x1":-0.0967,"y1":3.59,"x2":-0.0401,"y2":4.73},
{"t":"TAG (C58:10)","lx":0.1119,"ly":3.46,"x1":0.0622,"y1":3.78,"x2":0.0428,"y2":4.16},
{"t":"TAG (C56:8)","lx":-0.0207,"ly":3.27,"x1":0.0318,"y1":3.37,"x2":0.0359,"y2":4.73},
{"t":"LPC (C20:5)","lx":0.2459,"ly":2.73,"x1":0.1865,"y1":2.79,"x2":0.0773,"y2":4.51},
{"t":"SM (C18:0)","lx":-0.1547,"ly":2.67,"x1":-0.0967,"y1":2.79,"x2":-0.0276,"y2":4.54},
{"t":"CE (C20:5)","lx":0.1188,"ly":2.44},
{"t":"CE (C22:6)","lx":-0.0069,"ly":2.41},
{"t":"CE (C22:6)","lx":-0.0166,"ly":1.68},
{"t":"CE (C20:5)","lx":0.1105,"ly":1.65},
{"t":"CE (C20:5)","lx":0.0249,"ly":0.83,"x1":0.029,"y1":1.21,"x2":0.0414,"y2":1.62},
{"t":"Hippurate","lx":0.4544,"ly":6.19},
{"t":"Hippurate","lx":0.3439,"ly":3.71}
]
},
"hconcat":[
{
"width":815,"height":650,
"title":{"text":"A","anchor":"start","frame":"group","dx":-51,"offset":-30,"fontSize":27,"fontWeight":"bold","font":"Liberation Sans","color":"#000000"},
"layer":[
{"data":{"name":"aGray"},"mark":{"type":"circle","size":76,"opacity":1,"color":"#BEBEBE"},
"encoding":{
"x":{"field":"x","type":"quantitative","title":"β coefficient","scale":{"domain":[-0.175,0.177],"nice":false,"zero":false},
"axis":{"values":[-0.15,-0.1,-0.05,0,0.05,0.1,0.15],"labelExpr":"abs(datum.value*20 % 2) > 0.5 ? '' : format(datum.value, '.1f')","tickOpacity":{"condition":{"test":"abs(datum.value*20 % 2) > 0.5","value":0},"value":1}}},
"y":{"field":"y","type":"quantitative","title":"-log(FDRp)","scale":{"domain":[-0.32,6.7],"nice":false,"zero":false},
"axis":{"values":[0,1,2,3,4,5,6],"labelExpr":"datum.value % 2 != 0 ? '' : format(datum.value, 'd')","tickOpacity":{"condition":{"test":"datum.value % 2 != 0","value":0},"value":1}}}}},
{"data":{"name":"aPts"},"mark":{"type":"circle","size":68,"opacity":1},
"encoding":{
"x":{"field":"x","type":"quantitative","title":"β coefficient"},
"y":{"field":"y","type":"quantitative","title":"-log(FDRp)"},
"color":{"field":"g","type":"nominal","scale":{"domain":["AHEI","DASH","MDS","Non Sig"],"range":["#F5573F","#8CC43F","#5B8EE6","#BEBEBE"]},"legend":{"title":null}}}},
{"mark":{"type":"rule","color":"#EE3333","strokeDash":[8,5],"strokeWidth":1.6},"encoding":{"y":{"datum":1.3,"type":"quantitative"}}},
{"mark":{"type":"rule","color":"#EE3333","strokeDash":[8,5],"strokeWidth":1.6},"encoding":{"x":{"datum":0,"type":"quantitative"}}},
{"data":{"name":"aLab"},"transform":[{"filter":"isValid(datum.x1)"}],"mark":{"type":"rule","color":"#1a1a1a","strokeWidth":1.3},
"encoding":{"x":{"field":"x1","type":"quantitative","title":"β coefficient"},"y":{"field":"y1","type":"quantitative","title":"-log(FDRp)"},"x2":{"field":"x2"},"y2":{"field":"y2"}}},
{"data":{"name":"aLab"},"mark":{"type":"text"},
"encoding":{"x":{"field":"lx","type":"quantitative","title":"β coefficient"},"y":{"field":"ly","type":"quantitative","title":"-log(FDRp)"},"text":{"field":"t"}}}
]
},
{
"width":790,"height":650,
"title":{"text":"B","anchor":"start","frame":"group","dx":-27,"offset":-30,"fontSize":27,"fontWeight":"bold","font":"Liberation Sans","color":"#000000"},
"layer":[
{"data":{"name":"bGray"},"mark":{"type":"circle","size":76,"opacity":1,"color":"#BEBEBE"},
"encoding":{
"x":{"field":"x","type":"quantitative","title":"β coefficient","scale":{"domain":[-0.555,0.536],"nice":false,"zero":false},
"axis":{"values":[-0.5,-0.375,-0.25,-0.125,0,0.125,0.25,0.375,0.5],"labelExpr":"abs(datum.value*8 % 2) > 0.5 ? '' : format(datum.value, '.2f')","tickOpacity":{"condition":{"test":"abs(datum.value*8 % 2) > 0.5","value":0},"value":1}}},
"y":{"field":"y","type":"quantitative","title":"-log(FDRp)","scale":{"domain":[-0.86,19.7],"nice":false,"zero":false},
"axis":{"values":[0,2.5,5,7.5,10,12.5,15,17.5],"labelExpr":"datum.value % 5 != 0 ? '' : format(datum.value, 'd')","tickOpacity":{"condition":{"test":"datum.value % 5 != 0","value":0},"value":1}}}}},
{"data":{"name":"bPts"},"mark":{"type":"circle","size":68,"opacity":1},
"encoding":{
"x":{"field":"x","type":"quantitative","title":"β coefficient"},
"y":{"field":"y","type":"quantitative","title":"-log(FDRp)"},
"color":{"field":"g","type":"nominal","scale":{"domain":["AHEI","DASH","MDS","Non Sig"],"range":["#F5573F","#8CC43F","#5B8EE6","#BEBEBE"]},"legend":{"title":null}}}},
{"mark":{"type":"rule","color":"#EE3333","strokeDash":[8,5],"strokeWidth":1.6},"encoding":{"y":{"datum":1.3,"type":"quantitative"}}},
{"mark":{"type":"rule","color":"#EE3333","strokeDash":[8,5],"strokeWidth":1.6},"encoding":{"x":{"datum":0,"type":"quantitative"}}},
{"data":{"name":"bLab"},"transform":[{"filter":"isValid(datum.x1)"}],"mark":{"type":"rule","color":"#1a1a1a","strokeWidth":1.3},
"encoding":{"x":{"field":"x1","type":"quantitative","title":"β coefficient"},"y":{"field":"y1","type":"quantitative","title":"-log(FDRp)"},"x2":{"field":"x2"},"y2":{"field":"y2"}}},
{"data":{"name":"bLab"},"mark":{"type":"text"},
"encoding":{"x":{"field":"lx","type":"quantitative","title":"β coefficient"},"y":{"field":"ly","type":"quantitative","title":"-log(FDRp)"},"text":{"field":"t"}}}
]
}
],
"config":{
"view":{"stroke":null},
"axis":{"gridColor":"#d0d0d0","gridWidth":1,"domain":false,"tickColor":"#555555","tickSize":4,"labelFont":"Liberation Sans","labelFontSize":13.5,"labelColor":"#7a7a7a","labelPadding":2,"titleFont":"Lato","titleFontSize":20,"titleFontWeight":"bold","titleColor":"#000000"},
"axisX":{"titlePadding":21},
"axisY":{"titlePadding":14},
"legend":{"orient":"bottom","direction":"horizontal","symbolType":"circle","symbolSize":120,"symbolStrokeWidth":0,"labelFont":"Lato","labelFontSize":21,"labelColor":"#000000","columnPadding":16,"labelOffset":6,"offset":12,"layout":{"bottom":{"anchor":"middle"}}},
"text":{"font":"Liberation Sans","fontSize":14.5,"color":"#1a1a1a"}
}
}
